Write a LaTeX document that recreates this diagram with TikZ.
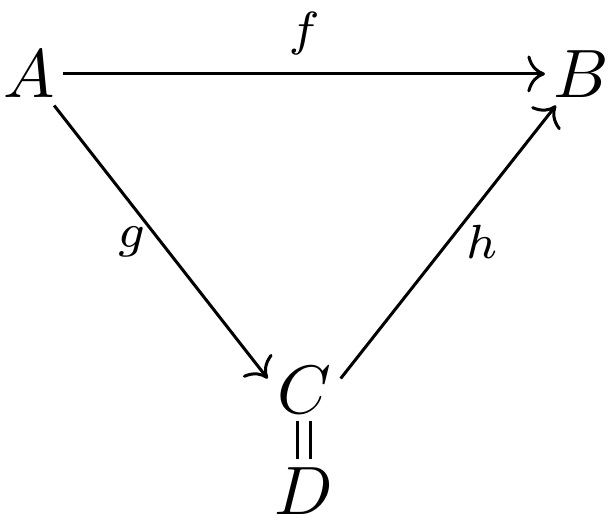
\documentclass[tikz,border=0pt]{standalone}
\usepackage{amsmath}
\usepackage{amssymb}
\usepackage{tikz}
\usetikzlibrary{positioning, arrows.meta}

\begin{document}
\begin{tikzpicture}[x=1pt, y=1pt,
    obj/.style={inner sep=1pt, anchor=base},
    map/.style={-{Computer Modern Rightarrow}, line width=0.44pt},
    lbl/.style={font=\scriptsize}]
      \useasboundingbox (0,0) rectangle (88.9,-75.8);
      \node[obj] (A) at (4.3,-14.2) {$A$};
      \node[obj, right=70.3pt of A] (B) {$B$};
      \node[obj, inner xsep=1.2pt] (C) at (44.4,-60.3) {$C$};
      \node[obj, below=5.5pt of C] (D) {$D$};
      \draw [map] (A) -- (B)
      node[lbl, midway, above, inner sep=2.6pt] {$f$};
      \draw [map] (A) -- (C.163)
      node[lbl, midway, left, inner sep=2pt] {$g$};
      \draw [map] (C.17) -- (B)
      node[lbl, midway, right, inner sep=2.3pt] {$h$};
      \draw [double, double distance=1.5pt, line width=0.44pt] (C) -- (D);
    \end{tikzpicture}
\end{document}
